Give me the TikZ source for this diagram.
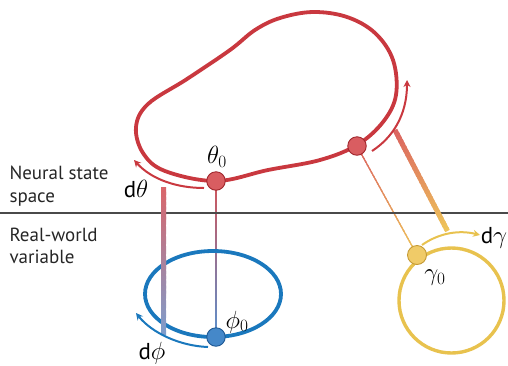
\documentclass[tikz,border=0pt]{standalone}
\usepackage{fontspec}
\setmainfont{PT Sans}
\usetikzlibrary{arrows.meta,calc}
\definecolor{nred}{HTML}{C9383F}
\definecolor{nredball}{HTML}{D95D61}
\definecolor{nrededge}{HTML}{A0262C}
\definecolor{nblue}{HTML}{1A78BD}
\definecolor{nblueball}{HTML}{4588C9}
\definecolor{nblueedge}{HTML}{1E5894}
\definecolor{nyel}{HTML}{E8C24E}
\definecolor{nyelball}{HTML}{F0CB68}
\definecolor{nyeledge}{HTML}{C49A35}
\definecolor{barred}{HTML}{D9666B}
\definecolor{barblue}{HTML}{7E9CCB}
\definecolor{thinred}{HTML}{D0555B}
\definecolor{thinblue}{HTML}{5C8FCB}
\definecolor{barorange}{HTML}{DB6460}
\definecolor{baryel}{HTML}{EEC45A}
\definecolor{axisgray}{HTML}{4A4A4A}
\pgfdeclarelayer{bg}
\pgfsetlayers{bg,main}
\newcommand\gradseg[5]{%
  \foreach \gi in {0,...,29}{%
    \pgfmathsetmacro\gp{100-100*\gi/29}%
    \pgfmathsetmacro\ga{\gi/30}%
    \pgfmathsetmacro\gb{min(1,(\gi+1.6)/30)}%
    \draw[line width=#5, line cap=butt, color=#3!\gp!#4] ($(#1)!\ga!(#2)$) -- ($(#1)!\gb!(#2)$);
  }}
\tikzset{
  ballnode/.style={circle, minimum size=18.5pt, inner sep=0pt, line width=0.9pt},
  redball/.style={ballnode, fill=nredball, draw=nrededge},
  blueball/.style={ballnode, fill=nblueball, draw=nblueedge},
  yelball/.style={ballnode, fill=nyelball, draw=nyeledge, minimum size=19pt},
  sidelabel/.style={font=\fontsize{19}{22.5}\selectfont, align=left, text=black!85},
  greek/.style={font=\fontsize{23}{26}\selectfont, inner sep=0pt},
  arr/.style={line width=2pt, -{Stealth[length=7pt,width=7pt]}},
}
\begin{document}
\begin{tikzpicture}[x=1pt,y=-1pt]
\useasboundingbox (0,0) rectangle (508,365);
% axis separator
\draw[axisgray, line width=1.2pt] (0,213) -- (508,213);
% real-world variables
\draw[nblue, line width=3.8pt] (213,294) ellipse [x radius=68, y radius=43];
\draw[nyel, line width=3.4pt] (451.5,300.5) circle [radius=52.5];
% neural manifold
\draw[nred, line width=3.8pt] plot[smooth cycle, tension=0.6] coordinates {
 (216,181) (268,170) (320,160) (357,145) (383,122) (396,95) (393,60) (375,33)
 (347,17) (313,12) (280,18) (255,30) (230,50) (187,79) (148,104) (136,127)
 (143,153) (165,171)};
% thick mapping bars
\coordinate (bt1) at (163.5,187);
\coordinate (bb1) at (163.5,335);
\coordinate (bt2) at (395,130);
\coordinate (bb2) at (447.5,231);
\gradseg{bt1}{bb1}{barred}{barblue}{5pt}
\gradseg{bt2}{bb2}{barorange}{baryel}{5pt}
% tangent arrows
\coordinate (dts) at (204,188);
\coordinate (dte) at (134,160);
\draw[arr, nred] (dts) .. controls (178,188) and (152,180) .. (dte);
\coordinate (rts) at (372,151);
\coordinate (rte) at (407,80);
\draw[arr, nred] (rts) .. controls (392,138) and (407,116) .. (rte);
\coordinate (dps) at (208,347);
\coordinate (dpe) at (136,313);
\draw[arr, nblue] (dps) .. controls (180,346) and (152,333) .. (dpe);
\coordinate (dgs) at (422,245);
\coordinate (dge) at (480,235);
\draw[arr, nyel] (dgs) .. controls (436,235) and (456,229) .. (dge);
% points
\node[redball] (t0) at (216,181) {};
\node[redball] (t1) at (357,146) {};
\node[blueball] (p0) at (216,337) {};
\node[yelball] (g0) at (417,255) {};
\begin{pgfonlayer}{bg}
\gradseg{t0.center}{p0.center}{thinred}{thinblue}{1.3pt}
\gradseg{t1.center}{g0.center}{barorange}{baryel}{1.3pt}
\end{pgfonlayer}
% labels
\node[greek] (lt0) at (217,157) {$\theta_0$};
\node[greek] (lp0) at (237,322) {$\phi_0$};
\node[greek] (lg0) at (435,278) {$\gamma_0$};
\node[greek] (ldt) at (136,189) {d$\theta$};
\node[greek] (ldp) at (152,353) {d$\phi$};
\node[greek] (ldg) at (494,238) {d$\gamma$};
\node[sidelabel, anchor=west] (ns) at (6,186) {Neural state\\space};
\node[sidelabel, anchor=west] (rw) at (6,246) {Real-world\\variable};
\end{tikzpicture}
\end{document}
